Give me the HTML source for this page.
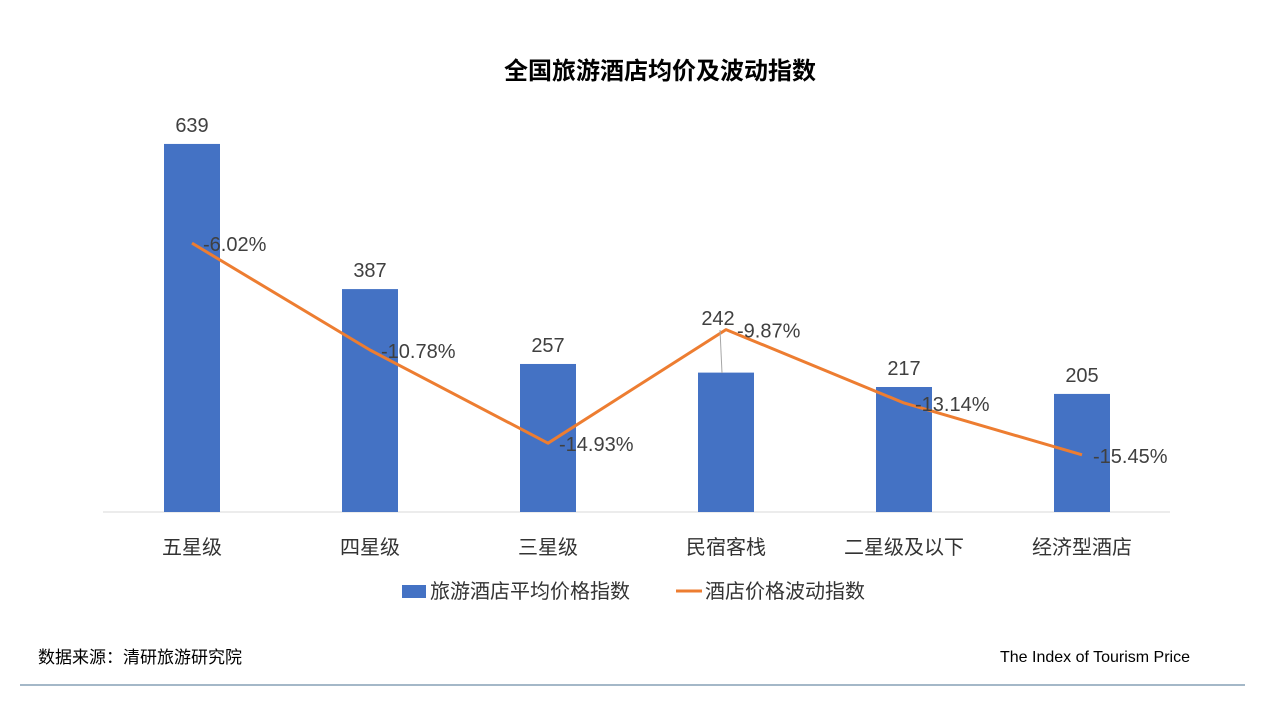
<!DOCTYPE html>
<html><head><meta charset="utf-8"><style>
body{margin:0;background:#fff;font-family:"Liberation Sans","Noto Sans CJK SC",sans-serif;}
svg text{font-family:"Liberation Sans","Noto Sans CJK SC",sans-serif;}
</style></head><body>
<svg id="c" width="1280" height="720">
<text x="660" y="79" text-anchor="middle" font-size="24" font-weight="bold" fill="#000">全国旅游酒店均价及波动指数</text>
<line x1="103" y1="512" x2="1170" y2="512" stroke="#d9d9d9" stroke-width="1"/>
<g id="bars"></g><g id="line"></g><g id="labels"></g>
<g>
<rect x="402" y="585" width="24" height="13" fill="#4472c4"/>
<text x="430" y="598" font-size="20" fill="#333">旅游酒店平均价格指数</text>
<line x1="676" y1="591" x2="702" y2="591" stroke="#ed7d31" stroke-width="3"/>
<text x="705" y="598" font-size="20" fill="#333">酒店价格波动指数</text>
</g>
<text x="38" y="663" font-size="17" fill="#000">数据来源：清研旅游研究院</text>
<text x="1190" y="662" font-size="16" fill="#000" text-anchor="end">The Index of Tourism Price</text>
<line x1="20" y1="685" x2="1245" y2="685" stroke="#4a7090" stroke-width="1"/>
</svg>
<script>
const categories=["五星级","四星级","三星级","民宿客栈","二星级及以下","经济型酒店"];
const prices=[639,387,257,242,217,205];
const changes=[-6.02,-10.78,-14.93,-9.87,-13.14,-15.45];
const NS="http://www.w3.org/2000/svg";
const xc=i=>192+i*178;
const yBar=v=>512-v*0.576;
const yLine=v=>108-v*22.45;
function mk(t,a,p){const e=document.createElementNS(NS,t);for(const k in a)e.setAttribute(k,a[k]);p.appendChild(e);return e;}
const bars=document.getElementById('bars'),line=document.getElementById('line'),labels=document.getElementById('labels');
categories.forEach((c,i)=>{
 const r=mk('rect',{x:xc(i)-28,y:yBar(prices[i]),width:56,height:512-yBar(prices[i]),fill:'#4472c4'},bars);
 
 
 const t=mk('text',{x:xc(i),y:554,'text-anchor':'middle','font-size':20,fill:'#333'},labels);t.textContent=c;
 
 
 let ly=yBar(prices[i])-12, lx=xc(i);
 if(i===3){ly=325;lx=718;const l=mk('line',{x1:xc(i)-4,y1:373,x2:lx+2,y2:330,stroke:'#a6a6a6'},labels);
  
  }
 const v=mk('text',{x:lx,y:ly,'text-anchor':'middle','font-size':20,fill:'#404040'},labels);v.textContent=prices[i];
 
 
 const p=mk('text',{x:xc(i)+11,y:yLine(changes[i])+8,'font-size':20,fill:'#404040'},labels);p.textContent=changes[i].toFixed(2)+'%';
 
 
});
const pl=mk('polyline',{points:changes.map((v,i)=>xc(i)+','+yLine(v)).join(' '),fill:'none',stroke:'#ed7d31','stroke-width':3,'stroke-linejoin':'round'},line);


</script>
</body></html>
